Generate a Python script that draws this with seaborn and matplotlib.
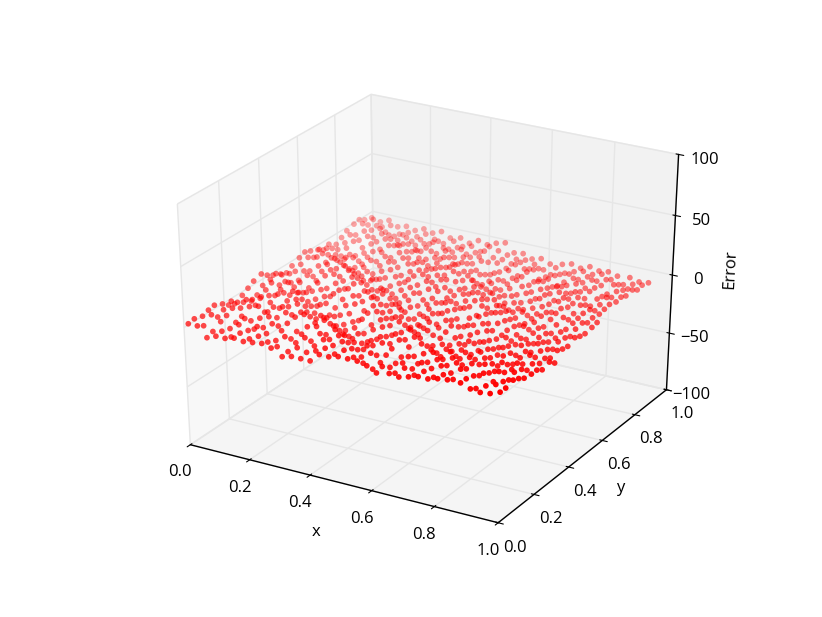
import matplotlib
matplotlib.use('Agg')
import matplotlib.pyplot as plt
import seaborn as sns

x_vals = [0.015, 0.045, 0.075, 0.105, 0.135, 0.165, 0.195, 0.225, 0.255, 0.285, 0.32, 0.35, 0.38, 0.41, 0.44, 0.47, 0.50,
          0.53, 0.56, 0.59, 0.62, 0.66, 0.69, 0.72, 0.75, 0.78, 0.81, 0.84, 0.88, 0.91, 0.94, 0.97, 1.00]
y_vals = [0.00, 0.03, 0.07, 0.10, 0.13, 0.17, 0.20, 0.23, 0.27, 0.30, 0.33, 0.37, 0.40, 0.43, 0.47,
          0.50, 0.53, 0.57, 0.60, 0.63, 0.67, 0.70, 0.73, 0.77, 0.80, 0.83, 0.87, 0.90, 0.93, 0.97]

# error per y row (front to back), rows get shorter towards the back
error_rows = [
    [4, 4, -4, -1, -1, 1, 0, 1, 2, 0, -5, -3, -3, -3, 4, 4, 6, 6, 6, 4, 0, 2, 1, 3, 5, 5, 7, 8, 8, 5, 4, 5, 8],
    [5, 1, -2, 0, -3, 2, -1, 3, 0, -2, -4, 1, -1, 2, 6, 3, 8, 4, 1, -2, 2, -1, 5, 1, 6, 3, 7, 5, 8, 2, 6, 9, 8],
    [3, 6, 2, -2, 3, 0, 5, 1, -3, 2, -1, 5, 0, 7, 4, 9, 5, 0, 5, -1, -3, 3, 0, 7, 4, 8, 4, 9, 6, 10, 5, 7, 10],
    [5, 1, 4, 0, 5, -2, 1, 6, 2, -3, 3, -1, 7, 4, 9, 5, 1, 6, 0, 2, -3, 5, 1, 4, 8, 5, 9, 6, 3, 7, 10, 5, 8],
    [6, 4, 7, 2, 0, 4, 7, 1, 5, 0, 6, 8, 3, 9, 6, 2, -2, 3, 7, 4, -1, 2, 6, 9, 5, 8, 4, 7, 9, 5, 6, 8, 5],
    [3, 7, 3, 6, 8, 5, 2, 8, 6, 10, 5, 9, 6, 1, -1, -3, 1, 6, 2, 7, 3, 8, 5, 1, 7, 3, 6, 2, 5, 8, 4, 6, 4],
    [-1, 3, 7, 4, 0, 6, 8, 3, 7, 5, 8, 3, -1, -4, 0, -5, -1, 3, 7, 4, 8, 3, -1, 4, 0, 5, 1, 4, 0, 3, 6, 2, 4],
    [-3, 0, 4, 8, 5, 2, 5, 9, 4, 0, 3, -2, -4, 0, -3, 2, 6, 1, 5, 9, 4, 0, 3, -1, 2, 0, 4, 1, 5, 0, 2, 4, 1],
    [0, -3, 1, 5, 8, 4, 7, 3, -1, -3, 0, -5, -1, 3, 0, 6, 3, 8, 4, 1, 6, 2, -2, 1, 5, -1, 2, -1, 3, 1, 5, 0, 3],
    [3, -1, 5, 2, 6, 9, 4, 0, 3, -4, -2, 1, -3, 5, 8, 4, 7, 2, -2, 3, -1, 4, 1, -3, 0, 3, -1, 2, -2, 3, 0, 1, -1],
    [6, 4, 8, 4, 1, 5, -1, -3, 1, -1, 3, 6, 2, 8, 4, 1, 4, -3, 0, 5, 2, 6, -1, 2, -2, 1, -3, 0, 3, -1, 2, -2],
    [8, 5, 2, 6, -1, 1, -3, 1, 5, 2, 7, 4, 9, 5, 1, 6, -2, -5, 2, -1, 4, 1, 4, 0, 3, -2, 1, -3, 0, 2, -1, 0],
    [4, 7, 2, -1, -4, -1, 2, -2, 5, 8, 4, 9, 5, 1, 4, -1, -5, -1, 3, 5, 1, -2, 1, 4, 0, -2, -5, -1, -3, 0, -4, -2],
    [1, 3, -2, 0, -3, 3, 0, 6, 3, 9, 5, 2, 6, -1, -4, 0, -4, 2, 0, 4, -1, 2, 5, 1, 3, -1, -3, -5, -1, -3, -1, -3],
    [-2, 0, -4, 2, -1, 5, 8, 4, 9, 6, 2, 5, -2, -4, 0, -3, 0, 3, 5, 1, 4, 0, 3, 6, 1, -2, 0, -4, -2, -4, -2, 0],
    [-4, -1, 1, -2, 4, 7, 3, 10, 5, 1, -2, 0, -5, -1, 3, -1, 2, 0, 3, -1, 2, 5, 1, 3, -1, -4, -6, -3, -5, -2, -4, -2],
    [-1, 2, -2, 4, 7, 5, 9, 4, 0, 3, -4, -6, -1, 3, 0, 5, 5, 1, -2, 2, 4, 0, 4, 1, -3, -6, -3, -5, -1, -3, -1, -3],
    [2, 4, 6, 3, 8, 4, 1, -2, -4, -1, -5, -1, 4, 1, 6, 3, 4, -1, 2, 5, 1, 3, -1, -4, -2, -6, -2, -3, 1, -2, 0, -2],
    [4, 1, 6, 4, 2, -2, -4, -1, -6, -3, 0, -3, 4, 7, 2, 6, -2, 1, -1, 2, -2, -5, -7, -4, -8, -5, -2, -1, -4, -1, -3, -1],
    [2, 5, 2, -1, 3, -4, -2, -6, -2, 1, -2, 3, 6, 2, 5, 3, 3, -1, 2, -3, 0, -6, -4, -8, -5, -2, -5, 0, -2, 0, -2],
    [-1, 2, -2, -4, -1, -5, 0, -3, 2, -1, 4, 7, 2, 5, 1, 6, 0, 2, -2, -5, -7, -4, -8, -5, -1, -4, 0, -3, 1, -1, -3],
    [-4, -1, -6, -3, -7, -2, -4, 2, -1, 4, 1, 4, 0, 3, 5, 1, 1, -4, -7, -5, -9, -6, -3, -6, -1, -4, 0, -3, -2, -5, -2],
    [-2, -5, -2, -7, -3, 0, 1, -2, 4, 1, 3, -2, 2, 0, 4, 0, -6, -8, -5, -9, -6, -2, -5, -1, -3, 0, -4, -1, -6, -3, -1],
    [-6, -3, 0, -4, 1, -2, 3, 5, 1, 4, -2, 1, 3, -1, 2, -4, -5, -9, -6, -8, -3, -5, 0, -4, -1, -5, -2, -6, -4, -1, -3],
    [-3, 1, -2, 3, 0, 4, 0, 3, -2, 0, 2, -3, 0, -4, -2, -6, -8, -5, -10, -6, -3, -5, -3, -6, -4, -8, -5, -3, -5, -4, -2],
    [0, -2, 3, -1, 4, 1, -3, 0, -4, 0, -3, 1, -3, -1, -5, -1, -11, -7, -4, -7, -2, -6, -4, -8, -6, -3, -5, -3, -6, -2, -4],
    [2, 4, 0, 3, -1, -4, 0, -5, -2, 1, -2, -4, 0, -5, -3, -6, -5, -8, -3, -5, -4, -8, -5, -9, -4, -6, -2, -5, -2, -5, -3],
    [3, 0, 1, -3, -5, -2, -6, -3, -5, -1, -6, -3, -7, -4, -1, -5, -5, -7, -4, -8, -6, -9, -7, -5, -8, -4, -6, -3, -5, -7, -6],
    [0, 2, -3, 0, -6, -3, -5, -1, -4, -6, -2, -5, -3, -6, 0, -2, -4, -6, -5, -7, -10, -6, -9, -6, -4, -5, -3, -6, -8, -6, -5],
    [-2, -4, -1, -5, -3, -5, -2, -4, -1, -5, -3, -6, -2, -4, -1, 1, -6, -5, -8, -6, -9, -7, -5, -7, -4, -6, -5, -7, -6, -8, -7],
]

x_ticks = [0.0, 0.2, 0.4, 0.6, 0.8, 1.0]
y_ticks = [0.0, 0.2, 0.4, 0.6, 0.8, 1.0]
z_ticks = [-100, -50, 0, 50, 100]

sns.set_style('white')
plt.rcParams['font.family'] = ['Open Sans', 'DejaVu Sans']
plt.rcParams['font.size'] = 12
plt.rcParams['text.color'] = 'black'
plt.rcParams['axes.labelcolor'] = 'black'

xs, ys, zs = [], [], []
for y, row in zip(y_vals, error_rows):
    for x, z in zip(x_vals, row):
        xs.append(x)
        ys.append(y)
        zs.append(z)

fig = plt.figure(figsize=(8.22, 6.17), dpi=100)
ax = fig.add_axes([0.128, 0.1016, 0.775, 0.8], projection='3d')
# the old mplot3d look: cube stretched to fill the whole axes box
ax.apply_aspect = lambda position=None: None
ax.set_box_aspect((1.032, 1.05, 1.03), zoom=0.9422)

ax.scatter(xs, ys, zs, c='red', s=17, linewidths=0, depthshade=True)

ax.set_xlim(0, 1)
ax.set_ylim(0, 1)
ax.set_zlim(-100, 100)
ax.set_xticks(x_ticks)
ax.set_yticks(y_ticks)
ax.set_zticks(z_ticks)
ax.set_xlabel('x', labelpad=7)
ax.set_ylabel('y', labelpad=3)
ax.set_zlabel('Error', labelpad=5)

for axis in (ax.xaxis, ax.yaxis, ax.zaxis):
    axis._axinfo['grid']['color'] = (0.9, 0.9, 0.9, 1)
    axis._axinfo['grid']['linewidth'] = 1.0
    axis.line.set_color('black')
    axis.line.set_linewidth(1.0)
ax.tick_params(colors='black', labelsize=12)

fig.savefig('out.png', dpi=100)
